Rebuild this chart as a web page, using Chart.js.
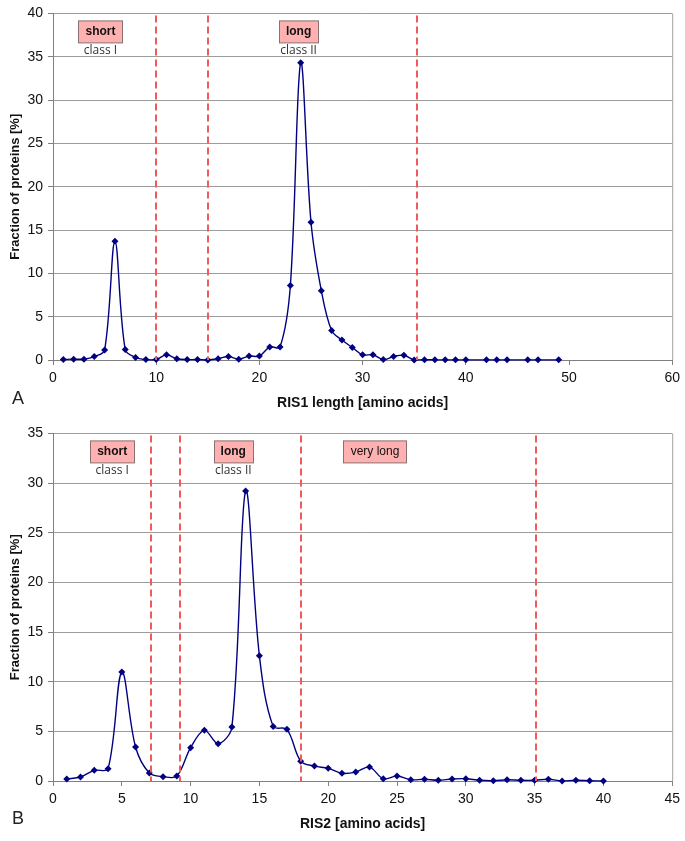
<!DOCTYPE html>
<html>
<head>
<meta charset="utf-8">
<script src="https://cdn.jsdelivr.net/npm/chart.js@4.4.1/dist/chart.umd.min.js"></script>
<style>
    body { margin: 0; background: #fff; }
    #area { position: relative; width: 685px; height: 841px; }
    canvas { position: absolute; left: 0; }
    #graficoA { top: 0; }
    #graficoB { top: 420px; }
</style>
</head>
<body>
<div id="area">
    <canvas id="graficoA" width="685" height="420"></canvas>
    <canvas id="graficoB" width="685" height="421"></canvas>
</div>
<script>
// --- DADOS ---
const comprimentoA = [1, 2, 3, 4, 5, 6, 7, 8, 9, 10, 11, 12, 13, 14, 15, 16, 17, 18, 19, 20,
    21, 22, 23, 24, 25, 26, 27, 28, 29, 30, 31, 32, 33, 34, 35, 36, 37, 38, 39, 40,
    42, 43, 44, 46, 47, 49];
const fracaoA = [0.05, 0.1, 0.1, 0.4, 1.15, 13.7, 1.2, 0.3, 0.05, 0.05, 0.6, 0.15, 0.05, 0.05, 0.0, 0.15, 0.4, 0.1, 0.45, 0.45,
    1.5, 1.5, 8.6, 34.3, 15.9, 8.0, 3.4, 2.3, 1.45, 0.6, 0.6, 0.05, 0.4, 0.55, 0.0, 0.03, 0.02, 0.02, 0.02, 0.02,
    0.02, 0.02, 0.02, 0.02, 0.02, 0.02];
const cortesA = [10, 15, 35.3];

const comprimentoB = [1, 2, 3, 4, 5, 6, 7, 8, 9, 10, 11, 12, 13, 14, 15, 16, 17, 18, 19, 20,
    21, 22, 23, 24, 25, 26, 27, 28, 29, 30, 31, 32, 33, 34, 35, 36, 37, 38, 39, 40];
const fracaoB = [0.2, 0.4, 1.07, 1.24, 10.97, 3.42, 0.8, 0.44, 0.5, 3.36, 5.1, 3.76, 5.44, 29.2, 12.6, 5.5, 5.2, 2.0, 1.5, 1.28,
    0.77, 0.9, 1.4, 0.23, 0.5, 0.13, 0.17, 0.07, 0.2, 0.23, 0.07, 0.03, 0.13, 0.07, 0.07, 0.17, 0, 0.07, 0.03, 0];
const cortesB = [7.1, 9.2, 18.05, 35.1];

const classesA = [
    { x: 4.6, texto: 'short', sub: 'class I', negrito: true },
    { x: 23.8, texto: 'long', sub: 'class II', negrito: true }
];
const classesB = [
    { x: 4.3, texto: 'short', sub: 'class I', negrito: true },
    { x: 13.1, texto: 'long', sub: 'class II', negrito: true },
    { x: 23.4, texto: 'very long', sub: '', negrito: false }
];

const FONTE = '"Liberation Sans", Arial, sans-serif';

// --- PLUGIN: linhas de corte, caixas das classes e letra do painel ---
const pluginMarcas = {
    id: 'marcas',
    beforeDatasetsDraw(chart) {
        const { ctx, chartArea: a } = chart;
        // borda direita da área do gráfico
        ctx.save();
        ctx.strokeStyle = '#a0a0a0';
        ctx.lineWidth = 1;
        ctx.beginPath();
        ctx.moveTo(a.right + 0.5, a.top);
        ctx.lineTo(a.right + 0.5, a.bottom);
        ctx.stroke();
        ctx.restore();
    },
    afterDatasetsDraw(chart, args, opts) {
        const { ctx, chartArea: a, scales: { x } } = chart;
        ctx.save();
        ctx.strokeStyle = '#f05a5a';
        ctx.lineWidth = 2;
        ctx.setLineDash([7, 4]);
        opts.cortes.forEach(v => {
            const px = Math.round(x.getPixelForValue(v));
            ctx.beginPath();
            ctx.moveTo(px, a.top + 2);
            ctx.lineTo(px, a.bottom);
            ctx.stroke();
        });
        ctx.restore();
    },
    afterDraw(chart, args, opts) {
        const { ctx, chartArea: a, scales: { x } } = chart;
        ctx.save();
        opts.classes.forEach(c => {
            const cx = x.getPixelForValue(c.x);
            ctx.font = (c.negrito ? 'bold ' : '') + '12px ' + FONTE;
            const w = Math.round(ctx.measureText(c.texto).width + 14);
            const left = Math.round(cx - w / 2) + 0.5;
            const top = a.top + 7.5;
            ctx.fillStyle = '#ffb0b0';
            ctx.fillRect(left, top, w, 22);
            ctx.strokeStyle = '#8a7070';
            ctx.lineWidth = 1;
            ctx.strokeRect(left, top, w, 22);
            ctx.fillStyle = '#111';
            ctx.textAlign = 'center';
            ctx.textBaseline = 'middle';
            ctx.fillText(c.texto, cx, top + 11);
            if (c.sub) {
                ctx.font = '12px "Open Sans", sans-serif';
                ctx.fillStyle = '#333';
                ctx.fillText(c.sub, cx, a.top + 37);
            }
        });
        ctx.font = '18px ' + FONTE;
        ctx.fillStyle = '#222';
        ctx.textAlign = 'left';
        ctx.textBaseline = 'middle';
        ctx.fillText(opts.letra, 12, 399);
        ctx.restore();
    }
};

// --- CONFIGURAÇÃO DE CADA GRÁFICO ---
function renderizarGrafico(id, xs, ys, cfg) {
    const ctx = document.getElementById(id).getContext('2d');
    const pontos = xs.map((v, i) => ({ x: v, y: ys[i] }));

    return new Chart(ctx, {
        type: 'line',
        data: {
            datasets: [{
                data: pontos,
                borderColor: '#000080',
                borderWidth: 1.4,
                tension: 0.35,
                fill: false,
                pointStyle: 'rectRot',
                pointRadius: 3.5,
                pointBackgroundColor: '#000080',
                pointBorderColor: '#000080',
                pointBorderWidth: 0,
                clip: false
            }]
        },
        options: {
            responsive: false,
            animation: false,
            layout: { padding: { top: cfg.topo, right: 12, left: 0, bottom: 0 } },
            plugins: {
                legend: { display: false },
                tooltip: { enabled: false },
                marcas: { cortes: cfg.cortes, classes: cfg.classes, letra: cfg.letra }
            },
            scales: {
                x: {
                    type: 'linear',
                    min: 0,
                    max: cfg.xMax,
                    ticks: { stepSize: cfg.xPasso, color: '#111', font: { family: FONTE, size: 14 }, maxRotation: 0, autoSkip: false, padding: 5 },
                    grid: { drawOnChartArea: false, drawTicks: true, tickLength: 5, tickColor: '#808080' },
                    border: { color: '#808080', width: 1 },
                    title: { display: true, text: cfg.tituloX, color: '#111', font: { family: FONTE, size: 14, weight: 'bold' }, padding: { top: 0, bottom: 8 } },
                    afterFit: s => { s.height = 60; }
                },
                y: {
                    min: 0,
                    max: cfg.yMax,
                    ticks: { stepSize: 5, color: '#111', font: { family: FONTE, size: 14 }, padding: 5 },
                    grid: { color: '#9c9c9c', tickLength: 5, tickColor: '#808080' },
                    border: { color: '#808080', width: 1 },
                    title: { display: true, text: 'Fraction of proteins [%]', color: '#111', font: { family: FONTE, size: 13, weight: 'bold' }, padding: { top: 8, bottom: 0 } },
                    afterFit: s => { s.width = 53; }
                }
            }
        },
        plugins: [pluginMarcas]
    });
}

renderizarGrafico('graficoA', comprimentoA, fracaoA, {
    topo: 12, xMax: 60, xPasso: 10, yMax: 40,
    tituloX: 'RIS1 length [amino acids]', cortes: cortesA, classes: classesA, letra: 'A'
});

renderizarGrafico('graficoB', comprimentoB, fracaoB, {
    topo: 13, xMax: 45, xPasso: 5, yMax: 35,
    tituloX: 'RIS2 [amino acids]', cortes: cortesB, classes: classesB, letra: 'B'
});
</script>
</body>
</html>
